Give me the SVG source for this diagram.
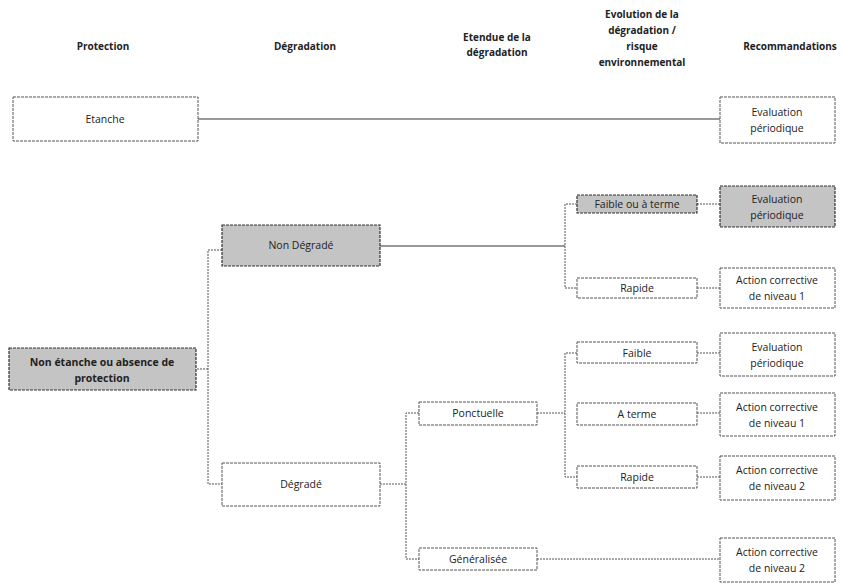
<svg xmlns="http://www.w3.org/2000/svg" width="841" height="586" viewBox="0 0 841 586">
<style>
text{font-family:"Open Sans","Liberation Sans",sans-serif;font-size:10.5px;fill:#222;text-anchor:middle}
.h{font-weight:bold;font-size:10px}
.b{fill:#fff;stroke:#555;stroke-width:1;stroke-dasharray:3 1}
.g{fill:#c4c4c4;stroke:#333;stroke-width:1.2;stroke-dasharray:3 1}
.c{fill:none;stroke:#555;stroke-width:1;stroke-dasharray:2 1}
.s{fill:none;stroke:#333;stroke-width:1.2}
</style>
<rect width="841" height="586" fill="#fff"/>
<g id="headers">
<text class="h" x="103" y="50">Protection</text>
<text class="h" x="305" y="50">Dégradation</text>
<text class="h" x="497" y="41">Etendue de la</text>
<text class="h" x="497" y="56">dégradation</text>
<text class="h" x="642" y="18">Evolution de la</text>
<text class="h" x="642" y="34">dégradation /</text>
<text class="h" x="642" y="50">risque</text>
<text class="h" x="642" y="66">environnemental</text>
<text class="h" x="790" y="50">Recommandations</text>
</g>
<g id="connectors">
<path class="s" d="M198 119H720"/>
<path class="c" d="M197 369H208M222 250H208V484H222"/>
<path class="s" d="M380 246H565"/>
<path class="c" d="M577 204H565V288H577"/>
<path class="c" d="M697 204H720M697 288H720"/>
<path class="c" d="M380 484H406M419 413H406V559H419"/>
<path class="c" d="M537 413H565M577 353H565V477H577"/>
<path class="c" d="M697 353H720M697 413H720M697 477H720"/>
<path class="c" d="M537 559H720"/>
</g>
<g id="etanche"><rect class="b" x="13" y="97" width="185" height="44"/><text x="105" y="123">Etanche</text></g>
<g id="eval1"><rect class="b" x="720" y="97" width="115" height="46"/><text x="777" y="116">Evaluation</text><text x="777" y="132">périodique</text></g>
<g id="non-etanche"><rect class="g" x="9" y="348" width="187" height="42"/><text x="102" y="366" font-weight="bold">Non étanche ou absence de</text><text x="102" y="382" font-weight="bold">protection</text></g>
<g id="non-degrade"><rect class="g" x="222" y="225" width="158" height="41"/><text x="301" y="249">Non Dégradé</text></g>
<g id="degrade"><rect class="b" x="222" y="463" width="158" height="43"/><text x="301" y="488">Dégradé</text></g>
<g id="faible-terme"><rect class="g" x="577" y="195" width="120" height="18"/><text x="637" y="208">Faible ou à terme</text></g>
<g id="rapide1"><rect class="b" x="577" y="278" width="120" height="20"/><text x="637" y="292">Rapide</text></g>
<g id="eval2"><rect class="g" x="720" y="186" width="115" height="41"/><text x="777" y="203">Evaluation</text><text x="777" y="219">périodique</text></g>
<g id="action1a"><rect class="b" x="720" y="268" width="115" height="40"/><text x="777" y="284">Action corrective</text><text x="777" y="300">de niveau 1</text></g>
<g id="ponctuelle"><rect class="b" x="419" y="402" width="118" height="23"/><text x="478" y="417">Ponctuelle</text></g>
<g id="generalisee"><rect class="b" x="419" y="548" width="118" height="22"/><text x="478" y="563">Généralisée</text></g>
<g id="faible"><rect class="b" x="577" y="342" width="120" height="21"/><text x="637" y="357">Faible</text></g>
<g id="a-terme"><rect class="b" x="577" y="403" width="120" height="22"/><text x="637" y="418">A terme</text></g>
<g id="rapide2"><rect class="b" x="577" y="466" width="120" height="22"/><text x="637" y="481">Rapide</text></g>
<g id="eval3"><rect class="b" x="720" y="333" width="115" height="43"/><text x="777" y="351">Evaluation</text><text x="777" y="367">périodique</text></g>
<g id="action1b"><rect class="b" x="720" y="393" width="115" height="43"/><text x="777" y="411">Action corrective</text><text x="777" y="427">de niveau 1</text></g>
<g id="action2a"><rect class="b" x="720" y="456" width="115" height="44"/><text x="777" y="474">Action corrective</text><text x="777" y="490">de niveau 2</text></g>
<g id="action2b"><rect class="b" x="720" y="538" width="115" height="44"/><text x="777" y="556">Action corrective</text><text x="777" y="572">de niveau 2</text></g>
</svg>
